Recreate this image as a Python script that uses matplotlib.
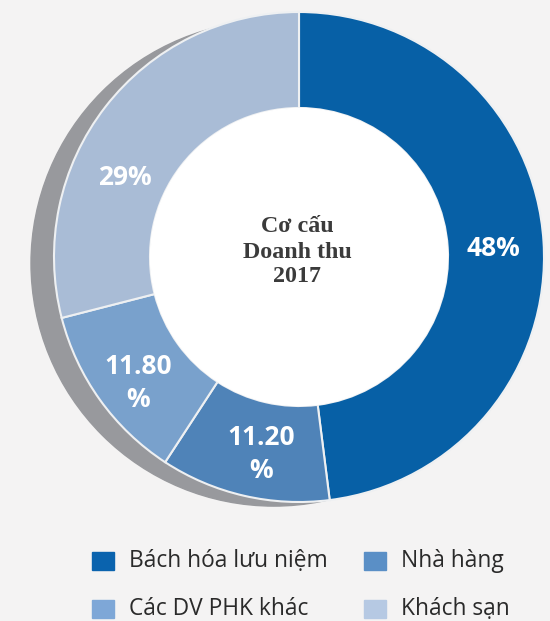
import numpy as np
import matplotlib
matplotlib.use("Agg")
import matplotlib.pyplot as plt
from matplotlib.patches import Circle, Rectangle

# ---- data ----
categories = ["Bách hóa lưu niệm", "Nhà hàng", "Các DV PHK khác", "Khách sạn"]
values = [48.0, 11.20, 11.80, 29.0]
value_labels = ["48%", "11.20\n%", "11.80\n%", "29%"]
center_title = "Cơ cấu\nDoanh thu\n2017"

wedge_colors = ["#0760a6", "#4f83b8", "#79a1cc", "#a9bcd6"]
legend_colors = ["#0a63ae", "#5a8fc6", "#7ea7d7", "#b6c9e3"]
label_angle_offset = [-1.0, 2.0, 2.4, 13.2]
label_radius = [195, 201, 204, 192]

W, H = 550, 621
bg = "#f4f3f3"
fig = plt.figure(figsize=(5.5, 6.21), dpi=100, facecolor=bg)
ax = fig.add_axes([0, 0, 1, 1])
ax.set_facecolor(bg)

cx, cy = 299, H - 257
R, r = 245, 149

# shadow
ax.add_patch(Circle((cx - 25.2, cy - 6.3), 242.8, color="#98999d", zorder=1))

wedges, _ = ax.pie(values, center=(cx, cy), radius=R, startangle=90,
                   counterclock=False, colors=wedge_colors,
                   wedgeprops=dict(width=R - r, edgecolor="#eef0f2", linewidth=1.5))
for w in wedges:
    w.set_zorder(2)
ax.add_patch(Circle((cx, cy), r - 0.5, color="white", zorder=3))

for w, lab, off, rr in zip(wedges, value_labels, label_angle_offset, label_radius):
    ang = np.deg2rad((w.theta1 + w.theta2) / 2 + off)
    ax.text(cx + rr * np.cos(ang), cy + rr * np.sin(ang), lab, ha="center", va="center",
            color="white", fontsize=19, fontweight="bold", family="Open Sans",
            linespacing=1.3, zorder=4)

ax.text(cx - 2, cy + 5, center_title, ha="center", va="center", fontsize=17.3,
        fontweight="bold", family="Liberation Serif", color="#3b3b3b",
        linespacing=1.25, zorder=4)

# legend
col_x = [92, 364]
row_y = [H - 561, H - 609]
for i, (cat, col) in enumerate(zip(categories, legend_colors)):
    x = col_x[i % 2]
    y = row_y[i // 2]
    ax.add_patch(Rectangle((x, y - 9), 22, 18, color=col, zorder=4))
    ax.text(x + 37, y, cat, ha="left", va="center", fontsize=16.4, family="Open Sans",
            color="#2a2a2a", zorder=4)

ax.set_xlim(0, W)
ax.set_ylim(0, H)
ax.set_aspect("auto")
ax.axis("off")

fig.savefig("out.png", dpi=100, facecolor=fig.get_facecolor())
